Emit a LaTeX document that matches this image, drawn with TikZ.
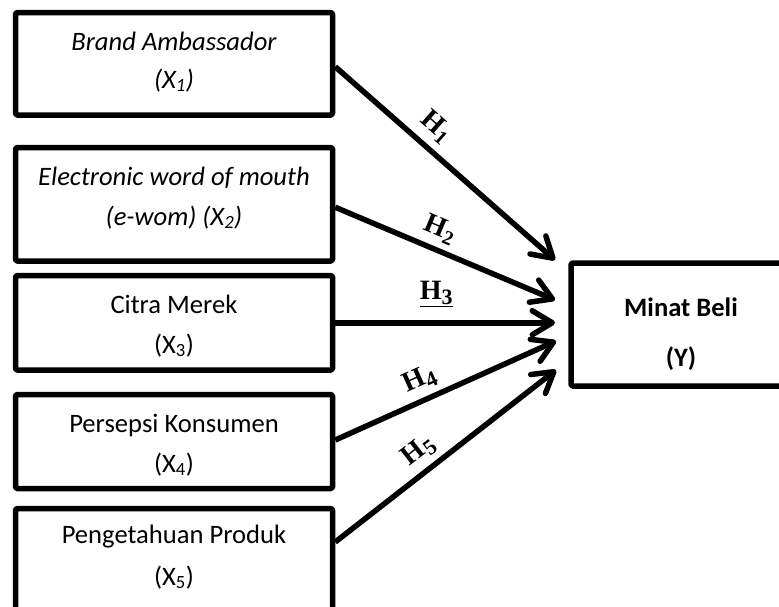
\documentclass[tikz,border=0pt]{standalone}
\usepackage{fontspec}
\setmainfont{Carlito}
\newfontfamily\hfont{Liberation Serif}
\usetikzlibrary{arrows.meta}
\newcommand{\hsubs}[2][20]{\raisebox{-5pt}{\fontsize{#1}{#1}\selectfont #2}}
\begin{document}
\begin{tikzpicture}[x=1pt,y=-1pt,
  box/.style={draw, line width=5.5pt, line join=round, rounded corners=1.5pt, inner sep=0pt, minimum width=317pt},
  txt/.style={inner sep=0pt, anchor=base, font=\fontsize{26.6}{30}\selectfont},
  conn/.style={line width=5.5pt, -{Straight Barb[length=20pt,width=24pt,round]}},
  hlab/.style={sloped, inner sep=0pt, font=\hfont\bfseries\fontsize{28}{30}\selectfont}]
\useasboundingbox (0,0) rectangle (779,606);
\clip (0,0) rectangle (779,606);
% boxes
\node[box, minimum height=102.5pt] (x1) at (174,63.75) {};
\node[box, minimum height=113.5pt] (x2) at (174,204.25) {};
\node[box, minimum height=94.5pt] (x3) at (174,322.75) {};
\node[box, minimum height=94pt] (x4) at (174,441.5) {};
\node[box, minimum height=103pt] (x5) at (174,560) {};
\node[box, minimum width=220pt, minimum height=123pt] (y) at (681,324.5) {};
% texts
\node[txt] (x1a) at (174,50) {\itshape Brand Ambassador};
\node[txt] (x1b) at (174,88) {\itshape (X\textsubscript{1})};
\node[txt] (x2a) at (174,185) {\itshape Electronic word of mouth};
\node[txt] (x2b) at (174,225) {\itshape (e-wom) (X\textsubscript{2})};
\node[txt] (x3a) at (174,313) {Citra Merek};
\node[txt] (x3b) at (174,353) {(X\textsubscript{3})};
\node[txt] (x4a) at (174,432) {Persepsi Konsumen};
\node[txt] (x4b) at (174,472) {(X\textsubscript{4})};
\node[txt] (x5a) at (174,543) {Pengetahuan Produk};
\node[txt] (x5b) at (174,585) {(X\textsubscript{5})};
\node[txt] (ya) at (681,316) {\bfseries Minat Beli};
\node[txt] (yb) at (681,366) {\bfseries (Y)};
% arrow tips
\coordinate (t1) at (555,260);
\coordinate (t2) at (555,300);
\coordinate (t3) at (555,322.75);
\coordinate (t4) at (556,341);
\coordinate (t5) at (556,370);
% connectors
\draw[conn] ([yshift=-3pt]x1.east) -- node[hlab, pos=0.395, above=7pt] (h1) {H\hsubs{1}} (t1);
\draw[conn] ([yshift=-3pt]x2.east) -- node[hlab, pos=0.44, above=6pt] (h2) {H\hsubs{2}} (t2);
\draw[conn] (x3.east) -- node[hlab, pos=0.46, above=13pt] (h3) {\underline{H\hsubs[22]{3}}} (t3);
\draw[conn] ([yshift=1.5pt]x4.east) -- node[hlab, pos=0.42, above=6pt] (h4) {H\hsubs[22]{4}} (t4);
\draw[conn] ([yshift=18pt]x5.east) -- node[hlab, pos=0.435, above=6pt] (h5) {H\hsubs[22]{5}} (t5);
\end{tikzpicture}
\end{document}
